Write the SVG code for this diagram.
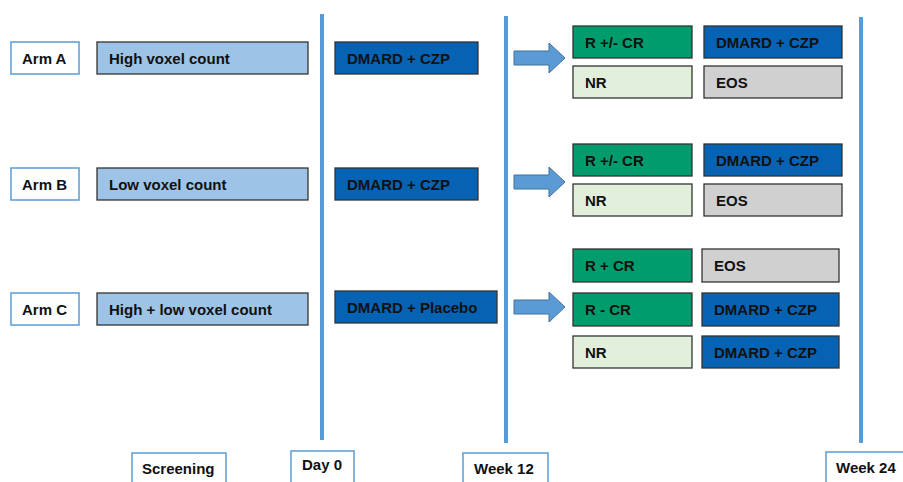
<svg xmlns="http://www.w3.org/2000/svg" width="903" height="482" viewBox="0 0 903 482">
<style>
text{font-family:"Liberation Sans",Arial,sans-serif;font-weight:bold;font-size:15px;fill:#111}
.lbl{fill:#fff;stroke:#5B9BD5;stroke-width:1.5}
.lb{fill:#9DC3E6;stroke:#333;stroke-width:1.3}
.db{fill:#0663B3;stroke:#333;stroke-width:1.3}
.gr{fill:#009C6B;stroke:#333;stroke-width:1.3}
.lg{fill:#E2EFDA;stroke:#333;stroke-width:1.3}
.gy{fill:#D0D0D0;stroke:#333;stroke-width:1.3}
.tl{stroke:#5B9BD5;stroke-width:4}
.ar{fill:#5B9BD5;stroke:#41719C;stroke-width:1}
</style>
<rect width="903" height="482" fill="#fff"/>
<g id="connectors">
<line class="tl" x1="322" y1="14" x2="322" y2="440"/>
<line class="tl" x1="506" y1="16" x2="506" y2="443"/>
<line class="tl" x1="861" y1="17" x2="861" y2="443"/>
<path class="ar" d="M514,51 H549 V43 L565,58 L549,73 V65 H514 Z"/>
<path class="ar" d="M514,175 H549 V167 L565,182 L549,197 V189 H514 Z"/>
<path class="ar" d="M514,300 H549 V292 L565,307 L549,322 V314 H514 Z"/>
</g>
<g id="armA"><rect class="lbl" x="11" y="42" width="68" height="32"/><text x="22" y="63.5">Arm A</text></g>
<g id="armA-screen"><rect class="lb" x="97" y="42" width="211" height="32"/><text x="109" y="63.5">High voxel count</text></g>
<g id="armA-day0"><rect class="db" x="335" y="42" width="143" height="32"/><text x="347" y="63.5">DMARD + CZP</text></g>
<g id="armA-r"><rect class="gr" x="573" y="26" width="119" height="32"/><text x="585" y="47.5">R +/- CR</text></g>
<g id="armA-nr"><rect class="lg" x="573" y="66" width="119" height="32"/><text x="585" y="87.5">NR</text></g>
<g id="armA-r24"><rect class="db" x="704" y="26" width="138" height="32"/><text x="716" y="47.5">DMARD + CZP</text></g>
<g id="armA-nr24"><rect class="gy" x="704" y="66" width="138" height="32"/><text x="716" y="87.5">EOS</text></g>

<g id="armB"><rect class="lbl" x="11" y="168" width="68" height="32"/><text x="22" y="189.5">Arm B</text></g>
<g id="armB-screen"><rect class="lb" x="97" y="168" width="211" height="32"/><text x="109" y="189.5">Low voxel count</text></g>
<g id="armB-day0"><rect class="db" x="335" y="168" width="143" height="32"/><text x="347" y="189.5">DMARD + CZP</text></g>
<g id="armB-r"><rect class="gr" x="573" y="144" width="119" height="32"/><text x="585" y="165.5">R +/- CR</text></g>
<g id="armB-nr"><rect class="lg" x="573" y="184" width="119" height="32"/><text x="585" y="205.5">NR</text></g>
<g id="armB-r24"><rect class="db" x="704" y="144" width="138" height="32"/><text x="716" y="165.5">DMARD + CZP</text></g>
<g id="armB-nr24"><rect class="gy" x="704" y="184" width="138" height="32"/><text x="716" y="205.5">EOS</text></g>

<g id="armC"><rect class="lbl" x="11" y="293" width="68" height="32"/><text x="22" y="314.5">Arm C</text></g>
<g id="armC-screen"><rect class="lb" x="97" y="293" width="211" height="32"/><text x="109" y="314.5">High + low voxel count</text></g>
<g id="armC-day0"><rect class="db" x="335" y="291" width="162" height="32"/><text x="347" y="312.5">DMARD + Placebo</text></g>
<g id="armC-rcr"><rect class="gr" x="573" y="249" width="119" height="33"/><text x="585" y="271">R + CR</text></g>
<g id="armC-rmcr"><rect class="gr" x="573" y="293" width="119" height="33"/><text x="585" y="315">R - CR</text></g>
<g id="armC-nr"><rect class="lg" x="573" y="336" width="119" height="32"/><text x="585" y="357.5">NR</text></g>
<g id="armC-rcr24"><rect class="gy" x="702" y="249" width="137" height="33"/><text x="714" y="271">EOS</text></g>
<g id="armC-rmcr24"><rect class="db" x="702" y="293" width="137" height="33"/><text x="714" y="315">DMARD + CZP</text></g>
<g id="armC-nr24"><rect class="db" x="702" y="336" width="137" height="32"/><text x="714" y="357.5">DMARD + CZP</text></g>

<g id="screening"><rect class="lbl" x="132" y="453" width="94" height="40"/><text x="142" y="474">Screening</text></g>
<g id="day0"><rect class="lbl" x="291" y="451" width="63" height="40"/><text x="302" y="470">Day 0</text></g>
<g id="week12"><rect class="lbl" x="463" y="453" width="85" height="40"/><text x="474" y="474">Week 12</text></g>
<g id="week24"><rect class="lbl" x="826" y="452" width="90" height="40"/><text x="836" y="473">Week 24</text></g>
</svg>
